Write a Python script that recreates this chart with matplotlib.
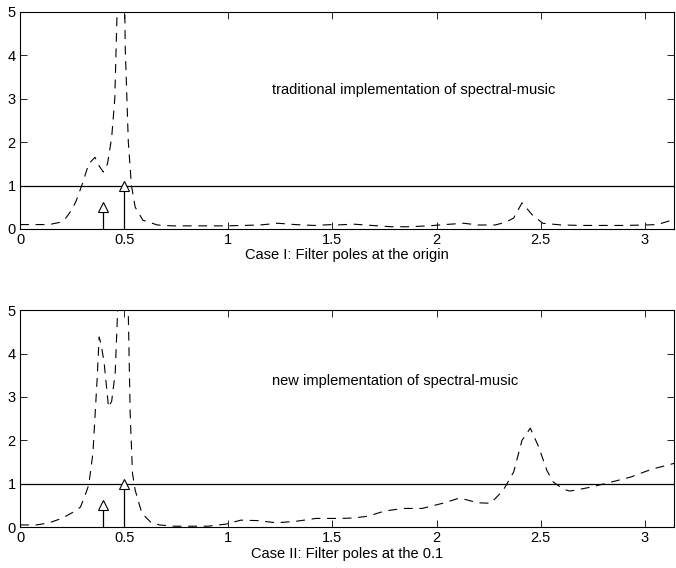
import numpy as np
import matplotlib
matplotlib.use('Agg')
import matplotlib.pyplot as plt

plt.rcParams['font.family'] = ['Liberation Sans', 'DejaVu Sans']
plt.rcParams['font.size'] = 10.5

# case I: filter poles at the origin
x1 = [0.0, 0.08, 0.14, 0.19, 0.22, 0.25, 0.27, 0.30, 0.33, 0.36, 0.38, 0.40, 0.42,
      0.44, 0.455, 0.466, 0.48, 0.495, 0.505, 0.52, 0.535, 0.553, 0.59, 0.66,
      0.73, 0.82, 0.9, 0.99, 1.07, 1.15, 1.24, 1.32, 1.41, 1.5, 1.52, 1.6, 1.69,
      1.78, 1.87, 1.96, 2.04, 2.13, 2.2, 2.28, 2.33, 2.37, 2.41, 2.46, 2.51,
      2.6, 2.7, 2.8, 2.9, 3.0, 3.06, 3.1416]
y1 = [0.1, 0.1, 0.1, 0.15, 0.25, 0.45, 0.65, 1.05, 1.5, 1.65, 1.45, 1.31, 1.5,
      2.1, 3.0, 5.0, 9.0, 9.0, 4.2, 2.0, 1.0, 0.5, 0.2, 0.09,
      0.07, 0.07, 0.07, 0.07, 0.08, 0.09, 0.13, 0.1, 0.08, 0.1, 0.09, 0.11, 0.08,
      0.05, 0.05, 0.07, 0.1, 0.13, 0.09, 0.09, 0.15, 0.25, 0.6, 0.32, 0.13,
      0.09, 0.08, 0.08, 0.08, 0.09, 0.1, 0.22]

# case II: filter poles at 0.1
x2 = [0.0, 0.08, 0.14, 0.2, 0.25, 0.29, 0.31, 0.33, 0.35, 0.37, 0.38, 0.39, 0.404,
      0.425, 0.44, 0.457, 0.468, 0.48, 0.495, 0.51, 0.52, 0.529, 0.54, 0.553,
      0.585, 0.63, 0.67, 0.74, 0.82, 0.9, 0.99, 1.06, 1.14, 1.23, 1.32, 1.42,
      1.5, 1.54, 1.6, 1.67, 1.75, 1.84, 1.93, 2.03, 2.11, 2.2, 2.26, 2.32,
      2.37, 2.41, 2.45, 2.49, 2.53, 2.56, 2.61, 2.64, 2.74, 2.84, 2.93, 3.03,
      3.1416]
y2 = [0.05, 0.05, 0.1, 0.2, 0.33, 0.46, 0.7, 0.97, 1.7, 3.39, 4.38, 4.2, 3.78,
      2.76, 2.9, 3.55, 4.9, 9.0, 9.0, 6.0, 4.9, 2.6, 1.24, 0.85,
      0.32, 0.1, 0.05, 0.02, 0.02, 0.02, 0.07, 0.16, 0.15, 0.1, 0.13, 0.2,
      0.2, 0.2, 0.21, 0.25, 0.37, 0.43, 0.43, 0.55, 0.67, 0.56, 0.55, 0.85,
      1.27, 2.0, 2.28, 1.85, 1.3, 1.04, 0.87, 0.83, 0.92, 1.04, 1.15, 1.33,
      1.47]

stem_x = [0.4, 0.5]
stem_y = [0.5, 1.0]
threshold = 1.0

panels = [
    (x1, y1, 'traditional implementation of spectral-music', 3.2,
     'Case I: Filter poles at the origin'),
    (x2, y2, 'new implementation of spectral-music', 3.36,
     'Case II: Filter poles at the 0.1'),
]

fig = plt.figure(figsize=(6.76, 5.68), dpi=100)
boxes = [[0.0296, 0.597, 0.968, 0.382], [0.0296, 0.072, 0.968, 0.382]]

for box, (xs, ys, note, note_y, label) in zip(boxes, panels):
    ax = fig.add_axes(box)
    ax.plot(xs, ys, color='black', lw=0.8, linestyle=(0, (8, 6)))
    ax.axhline(threshold, color='black', lw=0.9)
    for sx, sy in zip(stem_x, stem_y):
        ax.plot([sx, sx], [0, sy], color='black', lw=0.9)
        ax.plot([sx], [sy], marker='^', markersize=7, markerfacecolor='white',
                markeredgecolor='black', markeredgewidth=0.8, linestyle='none')
    ax.text(1.21, note_y, note, fontsize=10.5, va='center', ha='left')
    ax.set_xlim(0, np.pi)
    ax.set_ylim(0, 5)
    ax.set_xticks([0, 0.5, 1, 1.5, 2, 2.5, 3])
    ax.set_xticklabels(['0', '0.5', '1', '1.5', '2', '2.5', '3'])
    ax.set_yticks([0, 1, 2, 3, 4, 5])
    ax.tick_params(direction='in', top=True, right=True, length=5, width=0.6,
                   labelsize=10.5, pad=3)
    for s in ax.spines.values():
        s.set_linewidth(0.8)
    ax.set_xlabel(label, fontsize=10.5, labelpad=1)

fig.savefig('out.png', dpi=100)
